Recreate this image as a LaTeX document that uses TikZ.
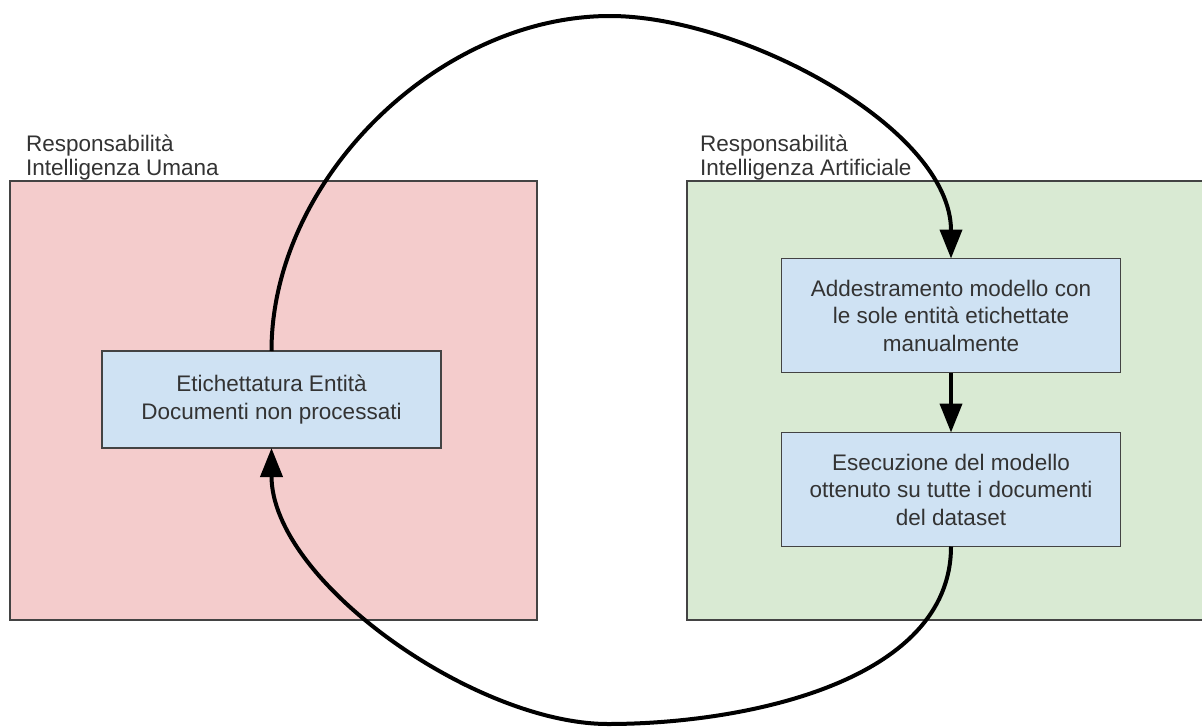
\documentclass[tikz,border=0pt]{standalone}
\usepackage{fontspec}
\setmainfont{Liberation Sans}
\usepackage{tikz}
\usetikzlibrary{arrows.meta,positioning}
\definecolor{humanfill}{HTML}{F4CCCC}
\definecolor{aifill}{HTML}{D9EAD3}
\definecolor{taskfill}{HTML}{CFE2F3}
\definecolor{edge}{HTML}{434343}
\definecolor{ink}{HTML}{333333}
\tikzset{
	area/.style={draw=edge,line width=1.3pt,inner sep=0pt,outer sep=0pt,
		minimum width=#1,minimum height=439pt},
	area label/.style={inner sep=0pt,align=left,text=ink,
		font=\fontsize{22.5}{23.5}\selectfont},
	task/.style={draw=edge,fill=taskfill,line width=1.3pt,inner sep=0pt,outer sep=0pt,
		minimum width=339pt,minimum height=#1,align=center,text=ink,
		font=\fontsize{22.5}{27.5}\selectfont},
	flow/.style={line width=4pt,-{Triangle[length=29pt,width=22pt]}}
}

\begin{document}
\begin{tikzpicture}[x=1pt,y=-1pt]
   \useasboundingbox (0,0) rectangle (1202,728);
   % the two responsibility areas
   \node[area=527pt,fill=humanfill] (human) at (273.5,400.5) {};
   \node[area=517pt,fill=aifill] (ai) at (945.5,400.5) {};
   \node[area label,above right=1pt and 16pt of human.north west] (humanlbl) {Responsabilità\\Intelligenza Umana};
   \node[area label,above right=1pt and 13pt of ai.north west] (ailbl) {Responsabilità\\Intelligenza Artificiale};
   % the steps
   \node[task=97pt] (etich) at (271.5,399.5) {Etichettatura Entità\\Documenti non processati};
   \node[task=114pt] (train) at (951,315.5) {Addestramento modello con\\le sole entità etichettate\\manualmente};
   \node[task=114pt,below=60pt of train] (run) {Esecuzione del modello\\ottenuto su tutte i documenti\\del dataset};
   \coordinate (peak) at (610,16);
   \coordinate (trough) at (608,724);
   \draw[flow] (etich.north) to[out=90,in=180,looseness=.92] (peak) to[out=0,in=90,looseness=.8] (train.north);
   \draw[flow] (train) -- (run);
   \draw[flow] (run.south) to[out=-90,in=0,looseness=.9] (trough) to[out=180,in=-90,looseness=.78] (etich.south);
\end{tikzpicture}
\end{document}
